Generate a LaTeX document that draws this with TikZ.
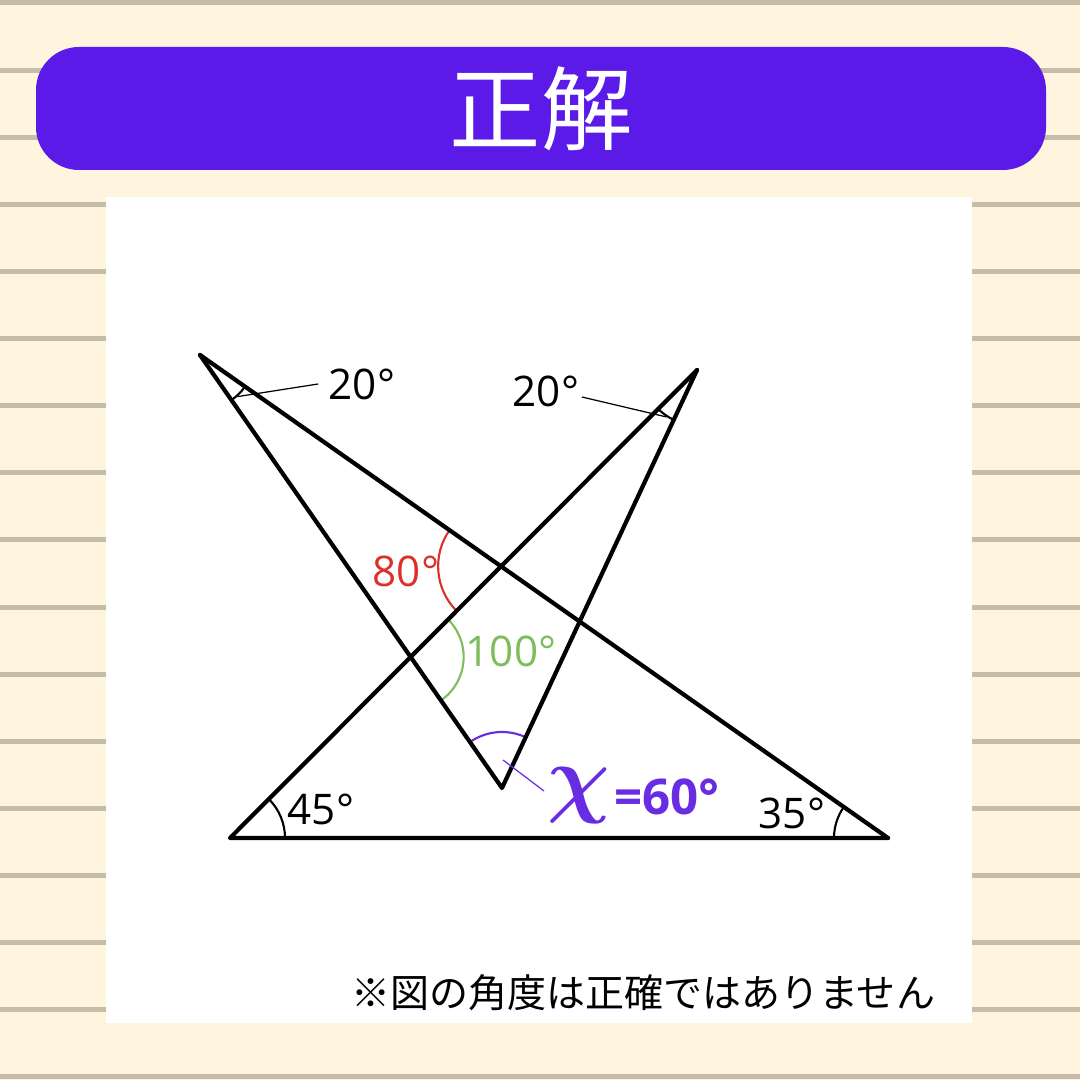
\documentclass[tikz,border=0pt]{standalone}
\usepackage{fontspec}
\usepackage{amsmath}
\usepackage{bm}
\setmainfont{Open Sans}
\newfontfamily\jpfont{Noto Sans CJK JP}
\usetikzlibrary{calc,positioning}
\definecolor{paper}{RGB}{255,245,223}
\definecolor{rule}{RGB}{198,188,170}
\definecolor{banner}{RGB}{92,26,233}
\definecolor{answer}{RGB}{104,44,226}
\definecolor{angred}{RGB}{222,48,42}
\definecolor{anggreen}{RGB}{124,190,90}

\begin{document}
\begin{tikzpicture}[
            every node/.append style={black,inner sep=0pt,font=\fontsize{12}{14}\selectfont},
            edge/.style={black,line width=1.2pt,line cap=round,line join=round},
            anglearc/.style={line width=0.6pt},
            leader/.style={line width=0.35pt}
        ]
            \useasboundingbox (0,0) rectangle (10.8,10.8);
            \fill[paper] (0,0) rectangle (10.8,10.8);
            \foreach \i in {0,...,16}
                \fill[rule] (0,10.77-0.67125*\i-0.025) rectangle (10.8,10.77-0.67125*\i+0.025);
            \node (title) [fill=banner,rounded corners=0.43cm,minimum width=10.1cm,minimum height=1.23cm,
                text=white,font=\jpfont\fontsize{26}{28}\selectfont] at (5.41,9.715) {正解};
            \fill[white] (1.06,0.57) rectangle (9.72,8.83);

            \coordinate (A) at (2.00,7.25);
            \coordinate (B) at (6.97,7.10);
            \coordinate (L) at (2.30,2.42);
            \coordinate (R) at (8.88,2.42);
            \coordinate (V) at (5.02,2.92);
            \coordinate (X1) at (intersection of A--R and B--L);
            \coordinate (X2) at (intersection of A--V and B--L);

            \draw[anglearc] ($(A)+(-55.1:0.55)$) arc[start angle=-55.1,end angle=-35.1,radius=0.55];
            \draw[anglearc] ($(B)+(225:0.55)$) arc[start angle=225,end angle=245,radius=0.55];
            \draw[anglearc] ($(L)+(0:0.55)$) arc[start angle=0,end angle=45,radius=0.55];
            \draw[anglearc] ($(R)+(145:0.54)$) arc[start angle=145,end angle=180,radius=0.54];
            \draw[anglearc,angred] ($(X1)+(145:0.63)$) arc[start angle=145,end angle=225,radius=0.63];
            \draw[anglearc,anggreen] ($(X2)+(-55.1:0.53)$) arc[start angle=-55.1,end angle=45,radius=0.53];
            \draw[anglearc,answer] ($(V)+(65:0.56)$) arc[start angle=65,end angle=124.9,radius=0.56];

            \draw[edge] (A) -- (R);
            \draw[edge] (A) -- (V) -- (B);
            \draw[edge] (B) -- (L) -- (R);

            \node (degA) at (3.62,6.96) {20°};
            \node (degB) at (5.46,6.89) {20°};
            \node (degL) at (3.21,2.71) {45°};
            \node (degR) at (7.92,2.67) {35°};
            \node (degX1) [text=angred] at (4.06,5.09) {80°};
            \node (degX2) [text=anggreen] at (5.11,4.29) {100°};
            \node (ans) [text=answer,anchor=base west,font=\bfseries\fontsize{14}{16}\selectfont] at (5.47,2.65)
                {\raisebox{2.4pt}{\fontsize{24}{26}\selectfont$\bm{\chi}$}\kern1pt=60°};
            \node (note) [font=\jpfont\fontsize{11.1}{13}\selectfont] at (6.43,0.87) {※図の角度は正確ではありません};

            \coordinate (tA) at ($(A)+(-48:0.56)$);
            \coordinate (tB) at ($(B)+(237:0.56)$);
            \coordinate (tV) at (5.03,3.20);
            \coordinate (tX) at (5.44,2.89);
            \draw[leader] (tA) -- ([xshift=-0.1cm]degA.west);
            \draw[leader] (tB) -- ([xshift=0.02cm,yshift=-0.06cm]degB.east);
            \draw[leader,answer] (tV) -- (tX);
        \end{tikzpicture}
\end{document}
